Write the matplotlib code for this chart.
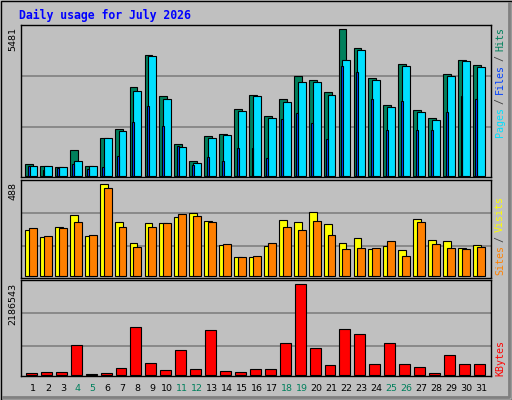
import matplotlib.pyplot as plt
import numpy as np

days = np.arange(1, 32)
hits = [436, 374, 336, 959, 374, 1420, 1756, 3326, 4522, 2990, 1196, 561, 1495, 1570, 2504,
        3027, 2242, 2877, 3737, 3588, 3139, 5481, 4771, 3662, 2653, 4186, 2466, 2167, 3812, 4335, 4148]
files = [374, 374, 336, 561, 374, 1420, 1682, 3177, 4484, 2878, 1084, 486, 1420, 1532, 2429,
         2990, 2168, 2765, 3513, 3513, 3027, 4335, 4709, 3588, 2579, 4111, 2392, 2093, 3737, 4298, 4073]
pages = [374, 224, 299, 448, 262, 336, 747, 2018, 2616, 1869, 1121, 411, 710, 561, 1046,
         1046, 673, 2130, 2354, 1981, 1383, 4111, 3887, 2878, 1719, 2803, 1719, 1719, 2392, 2990, 2878]
sites = [244, 207, 260, 324, 212, 488, 286, 175, 281, 281, 313, 334, 292, 164, 101,
         101, 159, 297, 286, 339, 276, 175, 202, 143, 159, 138, 302, 191, 186, 149, 164]
visits = [255, 212, 255, 286, 217, 467, 260, 154, 260, 281, 329, 318, 286, 170, 101,
          106, 175, 260, 244, 292, 217, 143, 149, 149, 186, 106, 286, 170, 149, 143, 154]
kbytes = [48000, 72000, 72000, 721000, 24000, 48000, 168000, 1153000, 288000, 120000, 601000,
          144000, 1081000, 96000, 72000, 144000, 144000, 769000, 2186543, 649000, 240000,
          1105000, 985000, 264000, 769000, 264000, 192000, 48000, 481000, 264000, 264000]
weekend = [4, 5, 11, 12, 18, 19, 25, 26]

BG = '#c0c0c0'
W, H = 512, 400
fig = plt.figure(figsize=(5.12, 4.0), dpi=100, facecolor=BG)
mono = 'DejaVu Sans Mono'

def rect(top, bottom):
    return [21 / W, 1 - bottom / H, 470 / W, (bottom - top) / H]

def setup(ax, lo, hi, grid):
    ax.set_facecolor(BG)
    ax.set_xlim(0.196, 31.68)
    ax.set_ylim(lo, hi)
    for g in grid:
        ax.axhline(g, color='#808080', lw=1.2, zorder=0)
    ax.set_xticks([])
    ax.set_yticks([])
    for s in ax.spines.values():
        s.set_color('black')
        s.set_linewidth(1)

ek = dict(edgecolor='black', linewidth=0.8, align='edge')

ax1 = fig.add_axes(rect(25, 177))
setup(ax1, -37, 5642, [3725, 1820])
ax1.bar(days - 0.53, hits, 0.53, color='#00805c', **ek)
ax1.bar(days - 0.27, files, 0.53, color='#00e0ff', **ek)
ax1.bar(days - 0.36, pages, 0.13, color='#0040ff', **ek)

ax2 = fig.add_axes(rect(180, 278))
setup(ax2, -9, 511, [334, 159])
ax2.bar(days - 0.53, sites, 0.53, color='#ffff00', **ek)
ax2.bar(days - 0.27, visits, 0.53, color='#ff8000', **ek)

ax3 = fig.add_axes(rect(280, 376))
setup(ax3, -17000, 2290000, [1489737, 696800])
ax3.bar(days - 0.47, kbytes, 0.73, color='#ff0000', **ek)

for d in days:
    ax3.text(d, -0.13, str(d), transform=ax3.get_xaxis_transform(), ha='center', va='center',
             fontsize=6.8, color='#00805c' if d in weekend else 'black')

def fy(y):
    return 1 - y / H

fig.text(19 / W, fy(15), 'Daily usage for July 2026', color='#0000ff', fontsize=8.3,
         fontweight='bold', family=mono, va='center', ha='left')
for y, s in [(27, '5481'), (182, '488'), (283, '2186543')]:
    fig.text(13 / W, fy(y), s, rotation=90, ha='center', va='top', fontsize=6.8)

def rlabel(bottom, pieces):
    pos = 0
    for s, c in pieces:
        fig.text(500 / W, fy(bottom - pos * 5.4), s, rotation=90, ha='center', va='bottom',
                 fontsize=7.2, family=mono, color=c)
        pos += len(s)

rlabel(137, [('Pages', '#00e0ff'), (' / ', '#404040'), ('Files', '#0040ff'),
             (' / ', '#404040'), ('Hits', '#00805c')])
rlabel(275, [('Sites', '#ff8000'), (' / ', '#404040'), ('Visits', '#ffff00')])
rlabel(376, [('KBytes', '#ff0000')])

# outer frame
fig.add_artist(plt.Rectangle((0.5 / W, 0.5 / H), 511 / W, 399 / H, fill=False,
                             edgecolor='black', lw=1, transform=fig.transFigure))
fig.add_artist(plt.Line2D([3 / W, 509 / W, 509 / W], [fy(397), fy(397), fy(3)],
                          color='#808080', lw=2, transform=fig.transFigure))

fig.savefig('out.png', dpi=100, facecolor=BG)
